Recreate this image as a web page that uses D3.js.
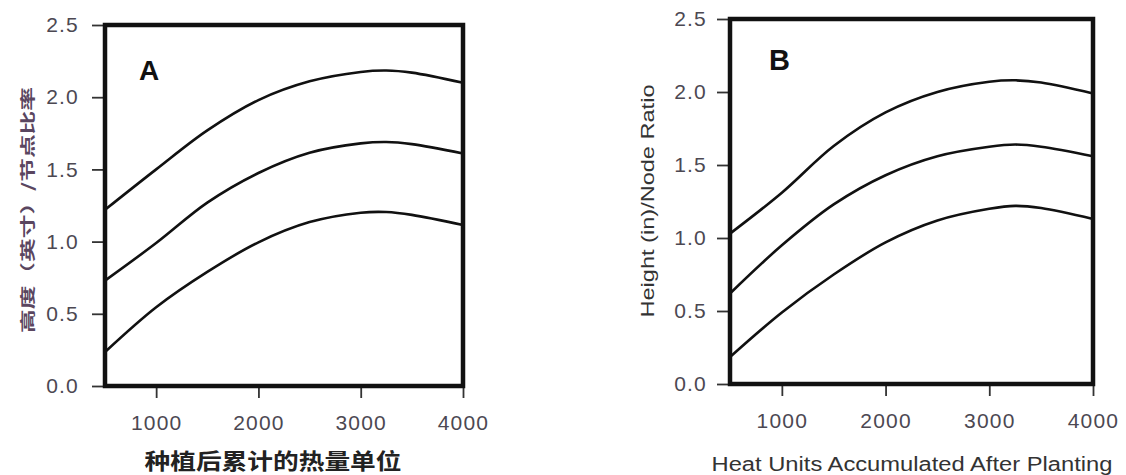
<!DOCTYPE html>
<html>
<head>
<meta charset="utf-8">
<script src="https://cdn.jsdelivr.net/npm/d3@7"></script>
<style>
  body { margin: 0; background: #fff; }
  svg { display: block; }
</style>
</head>
<body>
<svg id="chart" width="1126" height="475"></svg>
<script>
// heat units after planting (x) and the three curves of each panel
const heatUnits = [500, 1000, 1500, 2000, 2500, 3000, 3250, 3500, 4000];

const panelA_upper  = [1.22, 1.50, 1.77, 1.98, 2.11, 2.175, 2.185, 2.17, 2.10];
const panelA_middle = [0.73, 0.99, 1.27, 1.475, 1.615, 1.68, 1.69, 1.675, 1.61];
const panelA_lower  = [0.235, 0.545, 0.79, 0.995, 1.135, 1.20, 1.205, 1.185, 1.115];

const panelB_upper  = [1.03, 1.31, 1.63, 1.86, 2.00, 2.07, 2.08, 2.065, 1.99];
const panelB_middle = [0.62, 0.95, 1.23, 1.43, 1.56, 1.625, 1.64, 1.625, 1.56];
const panelB_lower  = [0.185, 0.49, 0.75, 0.97, 1.12, 1.20, 1.22, 1.205, 1.13];

const xTicks = [1000, 2000, 3000, 4000];
const yTicks = [0, 0.5, 1.0, 1.5, 2.0, 2.5];

const panels = [
  {
    letter: "A",
    series: [panelA_upper, panelA_middle, panelA_lower],
    yTitle: "高度（英寸）/节点比率",
    xTitle: "种植后累计的热量单位",
    left: 105, right: 463, top: 25, bottom: 386,
    letterPos: [139, 80], letterSize: 28,
    yTitlePos: [26, 210], yTitleLen: 246,
    xTitlePos: [273, 469], xTitleLen: 257,
    cjk: true
  },
  {
    letter: "B",
    series: [panelB_upper, panelB_middle, panelB_lower],
    yTitle: "Height (in)/Node Ratio",
    xTitle: "Heat Units Accumulated After Planting",
    left: 730, right: 1093, top: 19, bottom: 384,
    letterPos: [769, 70], letterSize: 29,
    yTitlePos: [648, 201], yTitleLen: 233,
    xTitlePos: [912, 471], xTitleLen: 401,
    cjk: false
  }
];

const svg = d3.select("#chart");
const tickColour = "#4c4852";

function drawPanel(p) {
  const g = svg.append("g");

  const x = d3.scaleLinear().domain([500, 4000]).range([p.left, p.right]);
  const y = d3.scaleLinear().domain([0, 2.5]).range([p.bottom, p.top]);

  // Y axis ticks + labels
  const yAxis = g.append("g")
    .attr("transform", `translate(${p.left},0)`)
    .call(d3.axisLeft(y).tickValues(yTicks).tickFormat(d3.format(".1f")).tickSize(13).tickPadding(p.cjk ? 13 : 10));
  yAxis.select(".domain").remove();
  yAxis.selectAll("line").attr("stroke", "#333").attr("stroke-width", 1.8);
  yAxis.selectAll("text")
    .attr("fill", tickColour)
    .style("font-family", "'Liberation Sans', Arial, sans-serif")
    .style("font-size", "21px")
    .style("letter-spacing", "1.2px");

  // X axis ticks + labels
  const xAxis = g.append("g")
    .attr("transform", `translate(0,${p.bottom})`)
    .call(d3.axisBottom(x).tickValues(xTicks).tickFormat(d3.format("d")).tickSize(12).tickPadding(17));
  xAxis.select(".domain").remove();
  xAxis.selectAll("line").attr("stroke", "#333").attr("stroke-width", 1.8);
  xAxis.selectAll("text")
    .attr("fill", tickColour)
    .style("font-family", "'Liberation Sans', Arial, sans-serif")
    .style("font-size", "21px")
    .style("letter-spacing", "1.2px");

  // the curves
  const line = d3.line()
    .x((d, i) => x(heatUnits[i]))
    .y(d => y(d))
    .curve(d3.curveCatmullRom.alpha(0.5));

  g.selectAll("path.curve")
    .data(p.series)
    .enter()
    .append("path")
      .attr("class", "curve")
      .attr("d", line)
      .attr("fill", "none")
      .attr("stroke", "#111")
      .attr("stroke-width", 2.6);

  // heavy frame round the plot
  g.append("rect")
    .attr("x", p.left)
    .attr("y", p.top)
    .attr("width", p.right - p.left)
    .attr("height", p.bottom - p.top)
    .attr("fill", "none")
    .attr("stroke", "#111")
    .attr("stroke-width", 4.5);

  // panel letter
  g.append("text")
    .attr("x", p.letterPos[0])
    .attr("y", p.letterPos[1])
    .attr("fill", "#111")
    .style("font-family", "'Liberation Sans', Arial, sans-serif")
    .style("font-weight", "bold")
    .style("font-size", p.letterSize + "px")
    .text(p.letter);

  // y title (rotated)
  g.append("text")
    .attr("transform", `translate(${p.yTitlePos[0]},${p.yTitlePos[1]}) rotate(-90)`)
    .attr("text-anchor", "middle")
    .attr("dominant-baseline", "central")
    .attr("textLength", p.yTitleLen)
    .attr("lengthAdjust", "spacingAndGlyphs")
    .attr("fill", p.cjk ? "#5a4660" : "#333")
    .style("font-family", p.cjk ? "'Noto Sans CJK SC', sans-serif" : "'Liberation Sans', Arial, sans-serif")
    .style("font-weight", p.cjk ? "bold" : "normal")
    .style("font-size", p.cjk ? "15px" : "18px")
    .text(p.yTitle);

  // x title
  g.append("text")
    .attr("x", p.xTitlePos[0])
    .attr("y", p.xTitlePos[1])
    .attr("text-anchor", "middle")
    .attr("textLength", p.xTitleLen)
    .attr("lengthAdjust", "spacingAndGlyphs")
    .attr("fill", p.cjk ? "#222" : "#333")
    .style("font-family", p.cjk ? "'Noto Sans CJK SC', sans-serif" : "'Liberation Sans', Arial, sans-serif")
    .style("font-weight", p.cjk ? "bold" : "normal")
    .style("font-size", p.cjk ? "22px" : "20px")
    .text(p.xTitle);
}

panels.forEach(drawPanel);
</script>
</body>
</html>
